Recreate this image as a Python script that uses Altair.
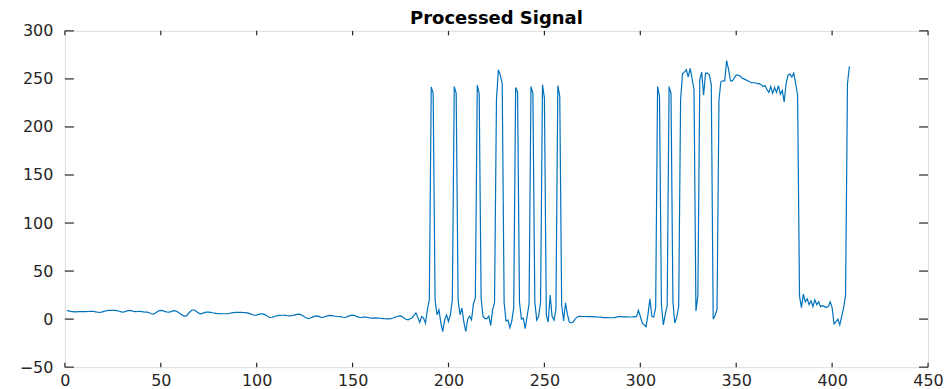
import altair as alt
import pandas as pd

# ---- signal values (sample index starts at 1) ----
seg1 = [9.0, 8.5, 8.0, 7.8, 7.6, 7.6, 7.7, 7.8, 7.8, 7.8, 7.8, 7.9, 8.0, 8.2, 8.0, 7.6, 7.2, 6.9, 7.2, 7.8,
        8.4, 8.8, 9.0, 9.0, 9.1, 9.0, 8.9, 8.4, 7.7, 7.3, 7.5, 8.3, 8.9, 9.0, 8.5, 7.9, 7.7, 7.9, 8.0, 7.8,
        7.5, 7.3, 7.2, 6.6, 5.6, 5.2, 6.0, 7.4, 8.6, 9.0, 8.8, 8.0, 7.4, 7.2, 7.6, 8.3, 8.8, 8.4, 7.2, 5.8]
seg2 = [4.4, 3.3, 3.1, 4.8, 7.2, 9.0, 9.7, 8.8, 7.3, 6.0, 5.5, 6.2, 7.0, 7.3, 7.3, 7.0, 6.6, 6.3, 6.0, 5.8,
        5.6, 5.6, 5.6, 5.6, 5.8, 6.1, 6.5, 6.8, 7.0, 7.0, 7.0, 7.0, 6.9, 6.8, 6.5, 6.0, 5.2, 4.5, 4.0, 4.2,
        4.9, 5.4, 5.5, 4.9, 3.7, 2.4, 1.7, 1.9, 2.6, 3.2, 3.6, 3.8, 4.0, 4.0, 3.8, 3.5, 3.4, 3.5, 3.9, 4.4]
seg3 = [4.9, 5.2, 4.7, 3.4, 2.1, 1.1, 0.6, 1.2, 2.1, 2.8, 3.4, 3.1, 2.3, 1.7, 2.0, 2.8, 3.4, 3.8, 3.7, 3.4,
        3.0, 2.7, 2.7, 2.4, 1.9, 1.7, 2.3, 3.1, 3.8, 4.1, 3.7, 2.9, 2.1, 1.7, 1.9, 2.2, 2.1, 1.7, 1.3, 1.0,
        1.1, 1.2, 1.1, 0.9, 0.7, 0.6, 0.4, 0.3, 0.2, 0.5, 1.1, 1.9, 2.7, 3.2, 3.4, 2.4, 0.9, -0.3, -0.7, 0.3,
        1.2, 3.8, 6.4, 1.8, -3.5, 2.6]
seg4 = [1.0, -4.2, 10.0, 20.0, 241.7, 235.0, 20.0, 4.5, 9.7, -4.0, -12.9, -0.7, 4.5, -2.5, 5.0, 20.0,
        242.0, 235.0, 20.0, 4.5, 11.4, -3.0, -12.9, 0.0, 3.0, -0.7, 16.0, 22.0, 243.4, 235.0, 22.0, 3.0,
        0.5, 0.5, 3.0, -6.5, 10.0, 17.0, 228.0, 259.5, 254.0, 245.0, 17.0, -2.0, -1.0, -9.0, -2.0, 12.0,
        241.0, 236.0, 18.0, 0.0, 1.0, -10.0, 3.0, 16.0, 242.0, 235.0, 18.0, -1.0, 3.0, 18.0, 244.0, 230.0,
        4.0, -3.0, 25.0, 3.0, -1.0, 10.0, 243.0, 232.0, 15.0, -2.0]
seg5 = [17.0, 5.0, -3.0, -4.0, -3.0, 0.0, 2.0, 2.8, 2.8, 2.7, 2.7, 2.6, 2.6, 2.5, 2.5, 2.4, 2.3, 2.2,
        2.0, 1.8, 1.6, 1.5, 1.5, 1.4, 1.4, 1.5, 1.8, 2.3, 2.6, 2.6, 2.4, 2.3, 2.3, 2.2, 2.2, 2.3, 2.6, 2.5,
        9.0, 3.0, -4.0, -6.0, -8.0, 5.0, 21.0, 3.0, 2.0, 12.0]
seg6 = [242.0, 232.0, 15.0, -6.0, 5.0, 14.0, 242.0, 235.0, 18.0, -4.0, 2.0, 13.0, 228.0, 255.6, 257.0,
        259.5, 252.0, 261.0, 250.0, 239.0, 8.5, 24.0, 249.0, 257.0, 233.0, 256.0, 256.0, 254.0, 244.0,
        0.0, 4.0, 10.0, 228.0, 247.0, 248.0, 248.0, 269.0]
seg7 = [260.0, 248.0, 248.0, 251.0, 254.0, 254.0, 253.0, 251.0, 250.0, 249.0, 248.0, 247.0, 246.0,
        246.0, 246.0, 245.0, 245.0, 244.0, 242.0, 243.0, 239.0, 236.0, 242.0, 235.0, 241.0, 236.0, 243.0,
        234.0, 238.0, 226.0, 245.0, 254.0, 255.0, 252.0, 256.0, 245.0, 233.0, 24.0]
seg8 = [12.0, 26.0, 18.0, 21.0, 15.0, 19.0, 13.0, 20.0, 15.0, 18.0, 13.0, 14.0, 13.0, 12.0, 13.0, 18.0,
        12.0, -5.0, -3.0, 0.0, -6.0, 3.0, 12.0, 25.0, 245.0, 263.0]

x_ticks = [0, 50, 100, 150, 200, 250, 300, 350, 400, 450]
y_ticks = [-50, 0, 50, 100, 150, 200, 250, 300]

values = seg1 + seg2 + seg3 + seg4 + seg5 + seg6 + seg7 + seg8
df = pd.DataFrame({"n": list(range(1, len(values) + 1)), "v": values})

W, H = 865, 337
AX = "#262626"
FONT = "DejaVu Sans"
xs = alt.Scale(domain=[0, 450], nice=False, zero=False)
ys = alt.Scale(domain=[-50, 300], nice=False, zero=False)
xa = alt.Axis(values=x_ticks, title=None, grid=False, ticks=False, tickSize=0, domain=False,
              labelPadding=5, labelFontSize=16, labelFont=FONT, labelColor=AX, labelFlush=False)
ya = alt.Axis(values=y_ticks, title=None, grid=False, ticks=False, tickSize=0, domain=False,
              labelPadding=12, labelFontSize=16, labelFont=FONT, labelColor=AX, labelFlush=False)

line = alt.Chart(df).mark_line(color="#0072BD", strokeWidth=1.2, clip=True).encode(
    x=alt.X("n:Q", scale=xs, axis=xa, title=None),
    y=alt.Y("v:Q", scale=ys, axis=ya, title=None),
)

xt = pd.DataFrame({"t": x_ticks})
yt = pd.DataFrame({"t": y_ticks})
rule = dict(color=AX, strokeWidth=1.2)
tick_b = alt.Chart(xt).mark_rule(**rule).encode(
    x=alt.X("t:Q", scale=xs, axis=xa, title=None), y=alt.value(H), y2=alt.value(H - 4.5))
tick_t = alt.Chart(xt).mark_rule(**rule).encode(
    x=alt.X("t:Q", scale=xs, axis=xa, title=None), y=alt.value(0), y2=alt.value(4.5))
tick_l = alt.Chart(yt).mark_rule(**rule).encode(
    y=alt.Y("t:Q", scale=ys, axis=ya, title=None), x=alt.value(0), x2=alt.value(9))
tick_r = alt.Chart(yt).mark_rule(**rule).encode(
    y=alt.Y("t:Q", scale=ys, axis=ya, title=None), x=alt.value(W - 9), x2=alt.value(W))

chart = alt.layer(line, tick_b, tick_t, tick_l, tick_r).properties(
    width=W, height=H,
    title=alt.Title("Processed Signal", fontSize=18, fontWeight="bold", font=FONT,
                    color="black", offset=-5, anchor="middle", frame="group"),
    padding={"left": 57, "top": 22.5, "right": 16, "bottom": 30},
    autosize=alt.AutoSizeParams(type="none"),
).configure_view(stroke=AX, strokeWidth=1.5).configure(background="white")

chart.save("out.html", embed_options={"renderer": "svg", "actions": False})
